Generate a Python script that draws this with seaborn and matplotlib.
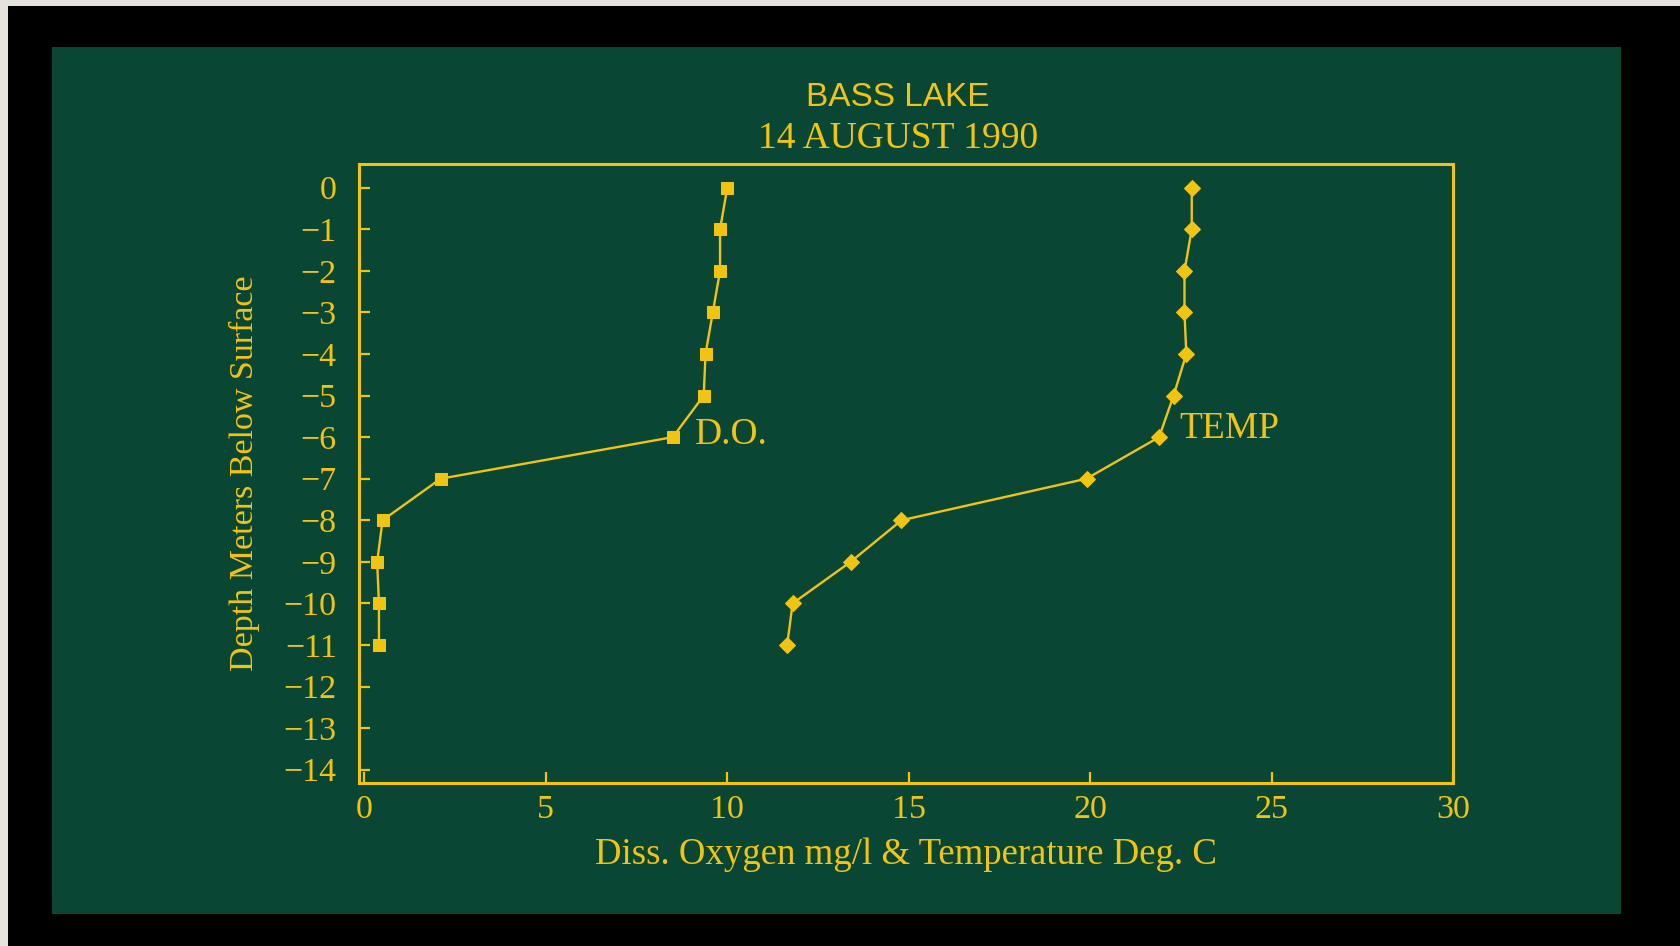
import matplotlib
matplotlib.use("Agg")
import matplotlib.pyplot as plt
import seaborn as sns
from matplotlib.patches import Rectangle

# ---- data ----
depth = [0, -1, -2, -3, -4, -5, -6, -7, -8, -9, -10, -11]
diss_oxygen = [10.0, 9.8, 9.8, 9.6, 9.4, 9.35, 8.5, 2.1, 0.5, 0.35, 0.4, 0.4]
temperature = [22.8, 22.8, 22.6, 22.6, 22.65, 22.3, 21.9, 19.9, 14.8, 13.4, 11.8, 11.65]
x_ticks = [0, 5, 10, 15, 20, 25, 30]
y_ticks = list(range(0, -15, -1))
title_line1 = "BASS LAKE"
title_line2 = "14 AUGUST 1990"
x_label = "Diss. Oxygen mg/l & Temperature Deg. C"
y_label = "Depth Meters Below Surface"

YEL = "#f2c412"
GREEN = "#094634"
SERIF = ["Liberation Serif", "DejaVu Serif"]

sns.set_theme(style="white")
plt.rcParams["font.family"] = SERIF

fig = plt.figure(figsize=(16.81, 9.46), dpi=100)
fig.patch.set_facecolor("black")
# light strip at the left/top edge of the scan
fig.patches.append(Rectangle((0, 0), 8 / 1681, 1, transform=fig.transFigure,
                             facecolor="#e6e3dc", edgecolor="none", zorder=-10))
fig.patches.append(Rectangle((0, 1 - 6 / 946), 1, 6 / 946, transform=fig.transFigure,
                             facecolor="#e6e3dc", edgecolor="none", zorder=-10))
# green slide area
fig.patches.append(Rectangle((52 / 1681, 1 - 914 / 946), (1621 - 52) / 1681, (914 - 47) / 946,
                             transform=fig.transFigure, facecolor=GREEN,
                             edgecolor="none", zorder=-10))

ax = fig.add_axes([359 / 1681, 1 - 783 / 946, (1453 - 359) / 1681, (783 - 164) / 946])
ax.set_facecolor("none")
ax.set_zorder(5)

sns.lineplot(x=diss_oxygen, y=depth, sort=False, estimator=None, ax=ax,
             color=YEL, linewidth=1.7, marker="s", markersize=9,
             markeredgecolor=YEL, markerfacecolor=YEL)
sns.lineplot(x=temperature, y=depth, sort=False, estimator=None, ax=ax,
             color=YEL, linewidth=1.7, marker="D", markersize=8,
             markeredgecolor=YEL, markerfacecolor=YEL)

ax.set_xlim(-0.15, 29.95)
ax.set_ylim(-14.32, 0.57)
ax.set_xticks(x_ticks)
ax.set_yticks(y_ticks)

for s in ax.spines.values():
    s.set_visible(True)
    s.set_color(YEL)
    s.set_linewidth(2.2)

ax.tick_params(axis="both", direction="in", colors=YEL, length=8, width=1.6,
               labelsize=24.5, labelcolor=YEL)
ax.tick_params(axis="y", pad=16, left=True)
ax.tick_params(axis="x", pad=8, bottom=True)
ax.grid(False)

ax.set_xlabel(x_label, color=YEL, fontsize=26.5, labelpad=9)
ax.set_ylabel(y_label, color=YEL, fontsize=24.5, labelpad=17)

ax.text(9.1, -5.95, "D.O.", color=YEL, fontsize=27, ha="left", va="center")
ax.text(22.45, -5.8, "TEMP", color=YEL, fontsize=27, ha="left", va="center")

fig.text(898 / 1681, 1 - 98 / 946, title_line1, color=YEL, fontsize=24,
         ha="center", va="center", family=["Liberation Sans", "DejaVu Sans"])
fig.text(898 / 1681, 1 - 139 / 946, title_line2, color=YEL, fontsize=27,
         ha="center", va="center")

fig.savefig("out.png", dpi=100, facecolor=fig.get_facecolor())
